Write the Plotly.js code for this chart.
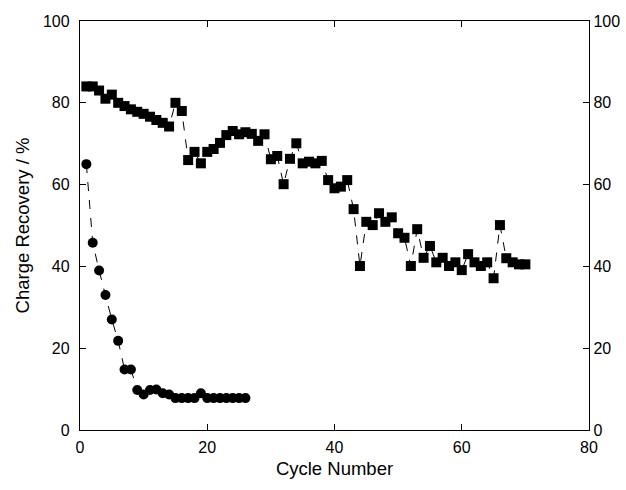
<!DOCTYPE html>
<html>
<head>
<meta charset="utf-8">
<script src="https://cdn.plot.ly/plotly-3.0.1.min.js"></script>
<style>
html, body { margin: 0; padding: 0; background: #fff; }
#chart { width: 626px; height: 490px; }
</style>
</head>
<body>
<div id="chart"></div>
<script>
// Square series: cycle number and charge recovery (%)
const squareCycles = [];
for (let i = 1; i <= 70; i++) squareCycles.push(i);
const squareRecovery = [
  84, 84, 83, 81, 82, 80, 79.2, 78.4, 77.8, 77.3,
  76.6, 75.8, 75.1, 74.2, 80, 78, 66, 68, 65.2, 68,
  68.7, 70.2, 72.1, 73.1, 72.3, 72.8, 72.4, 70.7, 72.3, 66.2,
  67, 60.1, 66.3, 70.1, 65.2, 65.6, 65.2, 65.8, 61.1, 59.1,
  59.5, 61.1, 54, 40.1, 50.9, 50.1, 53, 50.9, 52, 48.1,
  47, 40.1, 49.1, 42.1, 45, 41, 42.1, 40.1, 41, 39.1,
  43, 41, 40.1, 41, 37.1, 50.1, 42, 41, 40.5, 40.5
];

// Circle series: cycle number and charge recovery (%)
const circleCycles = [];
for (let i = 1; i <= 26; i++) circleCycles.push(i);
const circleRecovery = [
  65, 45.8, 39, 33, 27, 21.8, 14.8, 14.8, 9.8, 8.7,
  9.8, 9.9, 9.0, 8.7, 7.8, 7.8, 7.8, 7.8, 9.0, 7.8,
  7.8, 7.8, 7.8, 7.8, 7.8, 7.8
];

const xTicks = [0, 20, 40, 60, 80];
const yTicks = [0, 20, 40, 60, 80, 100];

const fontFamily = '"Liberation Sans", Arial, Helvetica, sans-serif';

const traces = [
  {
    x: squareCycles, y: squareRecovery, type: 'scatter', mode: 'lines+markers',
    line: { color: '#000', width: 1, dash: 'dash' },
    marker: { symbol: 'square', size: 10, color: '#000' },
    showlegend: false, hoverinfo: 'skip'
  },
  {
    x: circleCycles, y: circleRecovery, type: 'scatter', mode: 'lines+markers',
    line: { color: '#000', width: 1, dash: 'dash' },
    marker: { symbol: 'circle', size: 10, color: '#000' },
    showlegend: false, hoverinfo: 'skip'
  },
  {
    x: circleCycles, y: circleRecovery, type: 'scatter', mode: 'markers',
    yaxis: 'y2', marker: { opacity: 0 }, showlegend: false, hoverinfo: 'skip'
  }
];

const axisCommon = {
  showgrid: false, zeroline: false,
  showline: true, linecolor: '#000', linewidth: 1.2,
  ticks: 'inside', ticklen: 6, tickwidth: 1, tickcolor: '#000',
  tickfont: { family: fontFamily, size: 16, color: '#000' }
};

const layout = {
  width: 626, height: 490,
  margin: { l: 80, r: 37, t: 21, b: 60 },
  paper_bgcolor: '#fff', plot_bgcolor: '#fff',
  font: { family: fontFamily, color: '#000' },
  xaxis: Object.assign({}, axisCommon, {
    range: [0, 80], tickvals: xTicks, mirror: 'ticks', ticklabelstandoff: 3,
    title: { text: 'Cycle Number', font: { family: fontFamily, size: 18.5, color: '#000' }, standoff: 6 }
  }),
  yaxis: Object.assign({}, axisCommon, {
    range: [0, 100], tickvals: yTicks, mirror: true, ticklabelstandoff: 6,
    title: { text: 'Charge Recovery / %', font: { family: fontFamily, size: 18.5, color: '#000' }, standoff: 8 }
  }),
  yaxis2: Object.assign({}, axisCommon, {
    range: [0, 100], tickvals: yTicks, overlaying: 'y', side: 'right'
  })
};

Plotly.newPlot('chart', traces, layout, { staticPlot: true, displayModeBar: false });
</script>
</body>
</html>
